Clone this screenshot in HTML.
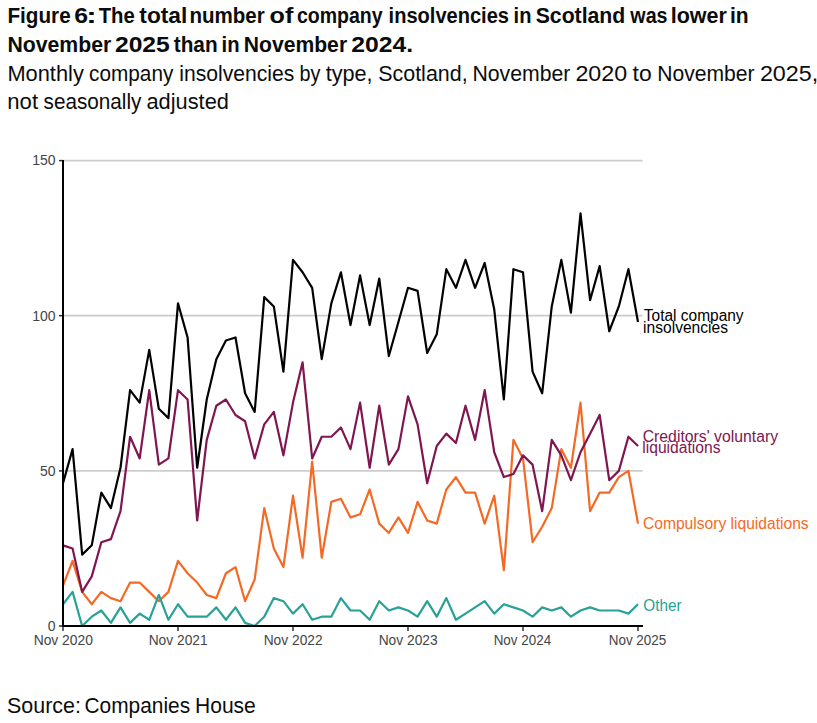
<!DOCTYPE html>
<html><head><meta charset="utf-8"><style>
html,body{margin:0;padding:0;background:#fff;}
svg{display:block;}
text{font-family:"Liberation Sans",sans-serif;}
</style></head><body>
<svg width="817" height="723" viewBox="0 0 817 723">
<rect width="817" height="723" fill="#fff"/>
<g fill="#0b0c0c">
<text x="7.41" y="23.3" font-size="21.8" font-weight="bold" textLength="63.29" lengthAdjust="spacingAndGlyphs">Figure</text>
<text x="74.29" y="23.3" font-size="21.8" font-weight="bold" textLength="13.81" lengthAdjust="spacingAndGlyphs">6</text>
<text x="86.39" y="23.3" font-size="21.8" font-weight="bold" textLength="10.42" lengthAdjust="spacingAndGlyphs">:</text>
<text x="98.67" y="23.3" font-size="21.8" font-weight="bold" textLength="36.12" lengthAdjust="spacingAndGlyphs">The</text>
<text x="139.32" y="23.3" font-size="21.8" font-weight="bold" textLength="47.99" lengthAdjust="spacingAndGlyphs">total</text>
<text x="189.45" y="23.3" font-size="21.8" font-weight="bold" textLength="75.37" lengthAdjust="spacingAndGlyphs">number</text>
<text x="269.62" y="23.3" font-size="21.8" font-weight="bold" textLength="23.73" lengthAdjust="spacingAndGlyphs">of</text>
<text x="296.94" y="23.3" font-size="21.8" font-weight="bold" textLength="85.67" lengthAdjust="spacingAndGlyphs">company</text>
<text x="388.60" y="23.3" font-size="21.8" font-weight="bold" textLength="120.42" lengthAdjust="spacingAndGlyphs">insolvencies</text>
<text x="513.60" y="23.3" font-size="21.8" font-weight="bold" textLength="17.85" lengthAdjust="spacingAndGlyphs">in</text>
<text x="535.69" y="23.3" font-size="21.8" font-weight="bold" textLength="89.61" lengthAdjust="spacingAndGlyphs">Scotland</text>
<text x="630.36" y="23.3" font-size="21.8" font-weight="bold" textLength="37.15" lengthAdjust="spacingAndGlyphs">was</text>
<text x="670.70" y="23.3" font-size="21.8" font-weight="bold" textLength="56.13" lengthAdjust="spacingAndGlyphs">lower</text>
<text x="729.93" y="23.3" font-size="21.8" font-weight="bold" textLength="18.67" lengthAdjust="spacingAndGlyphs">in</text>
<text x="7.38" y="52.1" font-size="21.8" font-weight="bold" textLength="103.94" lengthAdjust="spacingAndGlyphs">November</text>
<text x="114.95" y="52.1" font-size="21.8" font-weight="bold" textLength="54.84" lengthAdjust="spacingAndGlyphs">2025</text>
<text x="173.75" y="52.1" font-size="21.8" font-weight="bold" textLength="43.84" lengthAdjust="spacingAndGlyphs">than</text>
<text x="221.59" y="52.1" font-size="21.8" font-weight="bold" textLength="17.97" lengthAdjust="spacingAndGlyphs">in</text>
<text x="243.69" y="52.1" font-size="21.8" font-weight="bold" textLength="103.43" lengthAdjust="spacingAndGlyphs">November</text>
<text x="351.24" y="52.1" font-size="21.8" font-weight="bold" textLength="61.86" lengthAdjust="spacingAndGlyphs">2024.</text>
<text x="7.41" y="81.1" font-size="21.8" textLength="76.43" lengthAdjust="spacingAndGlyphs">Monthly</text>
<text x="89.12" y="81.1" font-size="21.8" textLength="84.22" lengthAdjust="spacingAndGlyphs">company</text>
<text x="179.29" y="81.1" font-size="21.8" textLength="115.08" lengthAdjust="spacingAndGlyphs">insolvencies</text>
<text x="299.62" y="81.1" font-size="21.8" textLength="20.92" lengthAdjust="spacingAndGlyphs">by</text>
<text x="325.67" y="81.1" font-size="21.8" textLength="46.97" lengthAdjust="spacingAndGlyphs">type,</text>
<text x="378.23" y="81.1" font-size="21.8" textLength="89.40" lengthAdjust="spacingAndGlyphs">Scotland,</text>
<text x="472.46" y="81.1" font-size="21.8" textLength="97.89" lengthAdjust="spacingAndGlyphs">November</text>
<text x="575.43" y="81.1" font-size="21.8" textLength="51.68" lengthAdjust="spacingAndGlyphs">2020</text>
<text x="632.55" y="81.1" font-size="21.8" textLength="19.11" lengthAdjust="spacingAndGlyphs">to</text>
<text x="657.27" y="81.1" font-size="21.8" textLength="97.28" lengthAdjust="spacingAndGlyphs">November</text>
<text x="759.93" y="81.1" font-size="21.8" textLength="58.26" lengthAdjust="spacingAndGlyphs">2025,</text>
<text x="7.33" y="108.7" font-size="21.8" textLength="30.73" lengthAdjust="spacingAndGlyphs">not</text>
<text x="43.52" y="108.7" font-size="21.8" textLength="97.92" lengthAdjust="spacingAndGlyphs">seasonally</text>
<text x="146.47" y="108.7" font-size="21.8" textLength="82.43" lengthAdjust="spacingAndGlyphs">adjusted</text>
<text x="7.03" y="713" font-size="21.3" textLength="73.83" lengthAdjust="spacingAndGlyphs">Source:</text>
<text x="84.54" y="713" font-size="21.3" textLength="105.61" lengthAdjust="spacingAndGlyphs">Companies</text>
<text x="194.97" y="713" font-size="21.3" textLength="60.86" lengthAdjust="spacingAndGlyphs">House</text>
</g>
<g stroke="#cccccc" stroke-width="1.7">
<line x1="63" y1="160.6" x2="642.5" y2="160.6"/>
<line x1="63" y1="315.7" x2="642.5" y2="315.7"/>
<line x1="63" y1="470.9" x2="642.5" y2="470.9"/>
</g>
<g stroke="#333" stroke-width="1.5">
<line x1="59" y1="160.6" x2="63" y2="160.6"/>
<line x1="59" y1="315.7" x2="63" y2="315.7"/>
<line x1="59" y1="470.9" x2="63" y2="470.9"/>
<line x1="59" y1="626" x2="63" y2="626"/>
<line x1="63.00" y1="626" x2="63.00" y2="631"/>
<line x1="178.00" y1="626" x2="178.00" y2="631"/>
<line x1="293.00" y1="626" x2="293.00" y2="631"/>
<line x1="408.00" y1="626" x2="408.00" y2="631"/>
<line x1="523.00" y1="626" x2="523.00" y2="631"/>
<line x1="638.00" y1="626" x2="638.00" y2="631"/>
</g>
<g font-size="14" fill="#444" text-anchor="end">
<text x="55.6" y="165.0">150</text>
<text x="55.6" y="321.0">100</text>
<text x="55.6" y="476.0">50</text>
<text x="55.6" y="631.0">0</text>
</g>
<g font-size="14" fill="#444" text-anchor="middle">
<text x="63.30" y="645" textLength="59.27" lengthAdjust="spacingAndGlyphs">Nov 2020</text>
<text x="178.15" y="645" textLength="58.96" lengthAdjust="spacingAndGlyphs">Nov 2021</text>
<text x="293.15" y="645" textLength="58.96" lengthAdjust="spacingAndGlyphs">Nov 2022</text>
<text x="408.15" y="645" textLength="58.96" lengthAdjust="spacingAndGlyphs">Nov 2023</text>
<text x="522.40" y="645" textLength="57.42" lengthAdjust="spacingAndGlyphs">Nov 2024</text>
<text x="637.50" y="645" textLength="57.62" lengthAdjust="spacingAndGlyphs">Nov 2025</text>
</g>
<g fill="none" stroke-width="2.2" stroke-linejoin="round">
<polyline stroke="#f46a25" points="63.00,585.66 72.58,560.84 82.17,591.87 91.75,604.28 101.33,591.87 110.92,598.08 120.50,601.18 130.08,582.56 139.67,582.56 149.25,591.87 158.83,601.18 168.42,591.87 178.00,560.84 187.58,573.25 197.17,582.56 206.75,594.97 216.33,598.08 225.92,573.25 235.50,567.05 245.08,601.18 254.67,579.46 264.25,508.10 273.83,548.43 283.42,567.05 293.00,495.69 302.58,557.74 312.17,461.56 321.75,557.74 331.33,501.89 340.92,498.79 350.50,517.41 360.08,514.30 369.67,489.48 379.25,523.61 388.83,532.92 398.42,517.41 408.00,532.92 417.58,501.89 427.17,520.51 436.75,523.61 446.33,489.48 455.92,477.07 465.50,492.58 475.08,492.58 484.67,523.61 494.25,495.69 503.83,570.15 513.42,439.84 523.00,458.45 532.58,542.23 542.17,526.71 551.75,508.10 561.33,449.15 570.92,467.76 580.50,402.61 590.08,511.20 599.67,492.58 609.25,492.58 618.83,477.07 628.42,470.87 638.00,523.61"/>
<polyline stroke="#801650" points="63.00,545.33 72.58,548.43 82.17,591.87 91.75,576.36 101.33,542.23 110.92,539.12 120.50,511.20 130.08,436.74 139.67,458.45 149.25,390.19 158.83,464.66 168.42,458.45 178.00,390.19 187.58,399.50 197.17,520.51 206.75,439.84 216.33,405.71 225.92,399.50 235.50,415.02 245.08,421.22 254.67,458.45 264.25,424.32 273.83,411.91 283.42,455.35 293.00,402.61 302.58,362.27 312.17,458.45 321.75,436.74 331.33,436.74 340.92,427.43 350.50,449.15 360.08,402.61 369.67,467.76 379.25,405.71 388.83,464.66 398.42,449.15 408.00,396.40 417.58,424.32 427.17,483.28 436.75,446.04 446.33,433.63 455.92,442.94 465.50,405.71 475.08,439.84 484.67,390.19 494.25,452.25 503.83,477.07 513.42,473.97 523.00,455.35 532.58,464.66 542.17,511.20 551.75,439.84 561.33,455.35 570.92,480.17 580.50,452.25 590.08,433.63 599.67,415.02 609.25,480.17 618.83,470.87 628.42,436.74 638.00,446.04"/>
<polyline stroke="#28a197" points="63.00,604.28 72.58,591.87 82.17,626.00 91.75,616.69 101.33,610.49 110.92,622.90 120.50,607.38 130.08,622.90 139.67,613.59 149.25,619.79 158.83,594.97 168.42,619.79 178.00,604.28 187.58,616.69 197.17,616.69 206.75,616.69 216.33,607.38 225.92,619.79 235.50,607.38 245.08,622.90 254.67,626.00 264.25,616.69 273.83,598.08 283.42,601.18 293.00,613.59 302.58,604.28 312.17,619.79 321.75,616.69 331.33,616.69 340.92,598.08 350.50,610.49 360.08,610.49 369.67,619.79 379.25,601.18 388.83,610.49 398.42,607.38 408.00,610.49 417.58,616.69 427.17,601.18 436.75,616.69 446.33,598.08 455.92,619.79 465.50,613.59 475.08,607.38 484.67,601.18 494.25,613.59 503.83,604.28 513.42,607.38 523.00,610.49 532.58,616.69 542.17,607.38 551.75,610.49 561.33,607.38 570.92,616.69 580.50,610.49 590.08,607.38 599.67,610.49 609.25,610.49 618.83,610.49 628.42,613.59 638.00,604.28"/>
<polyline stroke="#000000" points="63.00,483.28 72.58,449.15 82.17,554.64 91.75,545.33 101.33,492.58 110.92,508.10 120.50,467.76 130.08,390.19 139.67,402.61 149.25,349.86 158.83,408.81 168.42,418.12 178.00,303.32 187.58,337.45 197.17,467.76 206.75,399.50 216.33,359.17 225.92,340.55 235.50,337.45 245.08,393.30 254.67,411.91 264.25,297.11 273.83,306.42 283.42,371.58 293.00,259.88 302.58,272.29 312.17,287.81 321.75,359.17 331.33,303.32 340.92,272.29 350.50,325.04 360.08,275.39 369.67,325.04 379.25,278.50 388.83,356.07 398.42,321.94 408.00,287.81 417.58,290.91 427.17,352.96 436.75,334.35 446.33,269.19 455.92,287.81 465.50,259.88 475.08,287.81 484.67,262.98 494.25,309.52 503.83,399.50 513.42,269.19 523.00,272.29 532.58,371.58 542.17,393.30 551.75,306.42 561.33,259.88 570.92,312.63 580.50,213.34 590.08,300.22 599.67,266.09 609.25,331.24 618.83,306.42 628.42,269.19 638.00,321.94"/>
</g>
<line x1="63" y1="160" x2="63" y2="627" stroke="#000" stroke-width="2"/>
<line x1="62" y1="626" x2="643" y2="626" stroke="#000" stroke-width="2"/>
<g font-size="15.8" lengthAdjust="spacingAndGlyphs">
<text x="643.8" y="320.8" fill="#000" textLength="99.8" lengthAdjust="spacingAndGlyphs">Total company</text>
<text x="643.1" y="332.6" fill="#000" textLength="84.9" lengthAdjust="spacingAndGlyphs">insolvencies</text>
<text x="642.7" y="442.0" fill="#801650" textLength="135.4" lengthAdjust="spacingAndGlyphs">Creditors' voluntary</text>
<text x="642.3" y="453.3" fill="#801650" textLength="78.2" lengthAdjust="spacingAndGlyphs">liquidations</text>
<text x="643.0" y="529" fill="#f46a25" textLength="165.6" lengthAdjust="spacingAndGlyphs">Compulsory liquidations</text>
<text x="643.3" y="610.6" fill="#28a197" textLength="38.3" lengthAdjust="spacingAndGlyphs">Other</text>
</g>
</svg>
</body></html>
